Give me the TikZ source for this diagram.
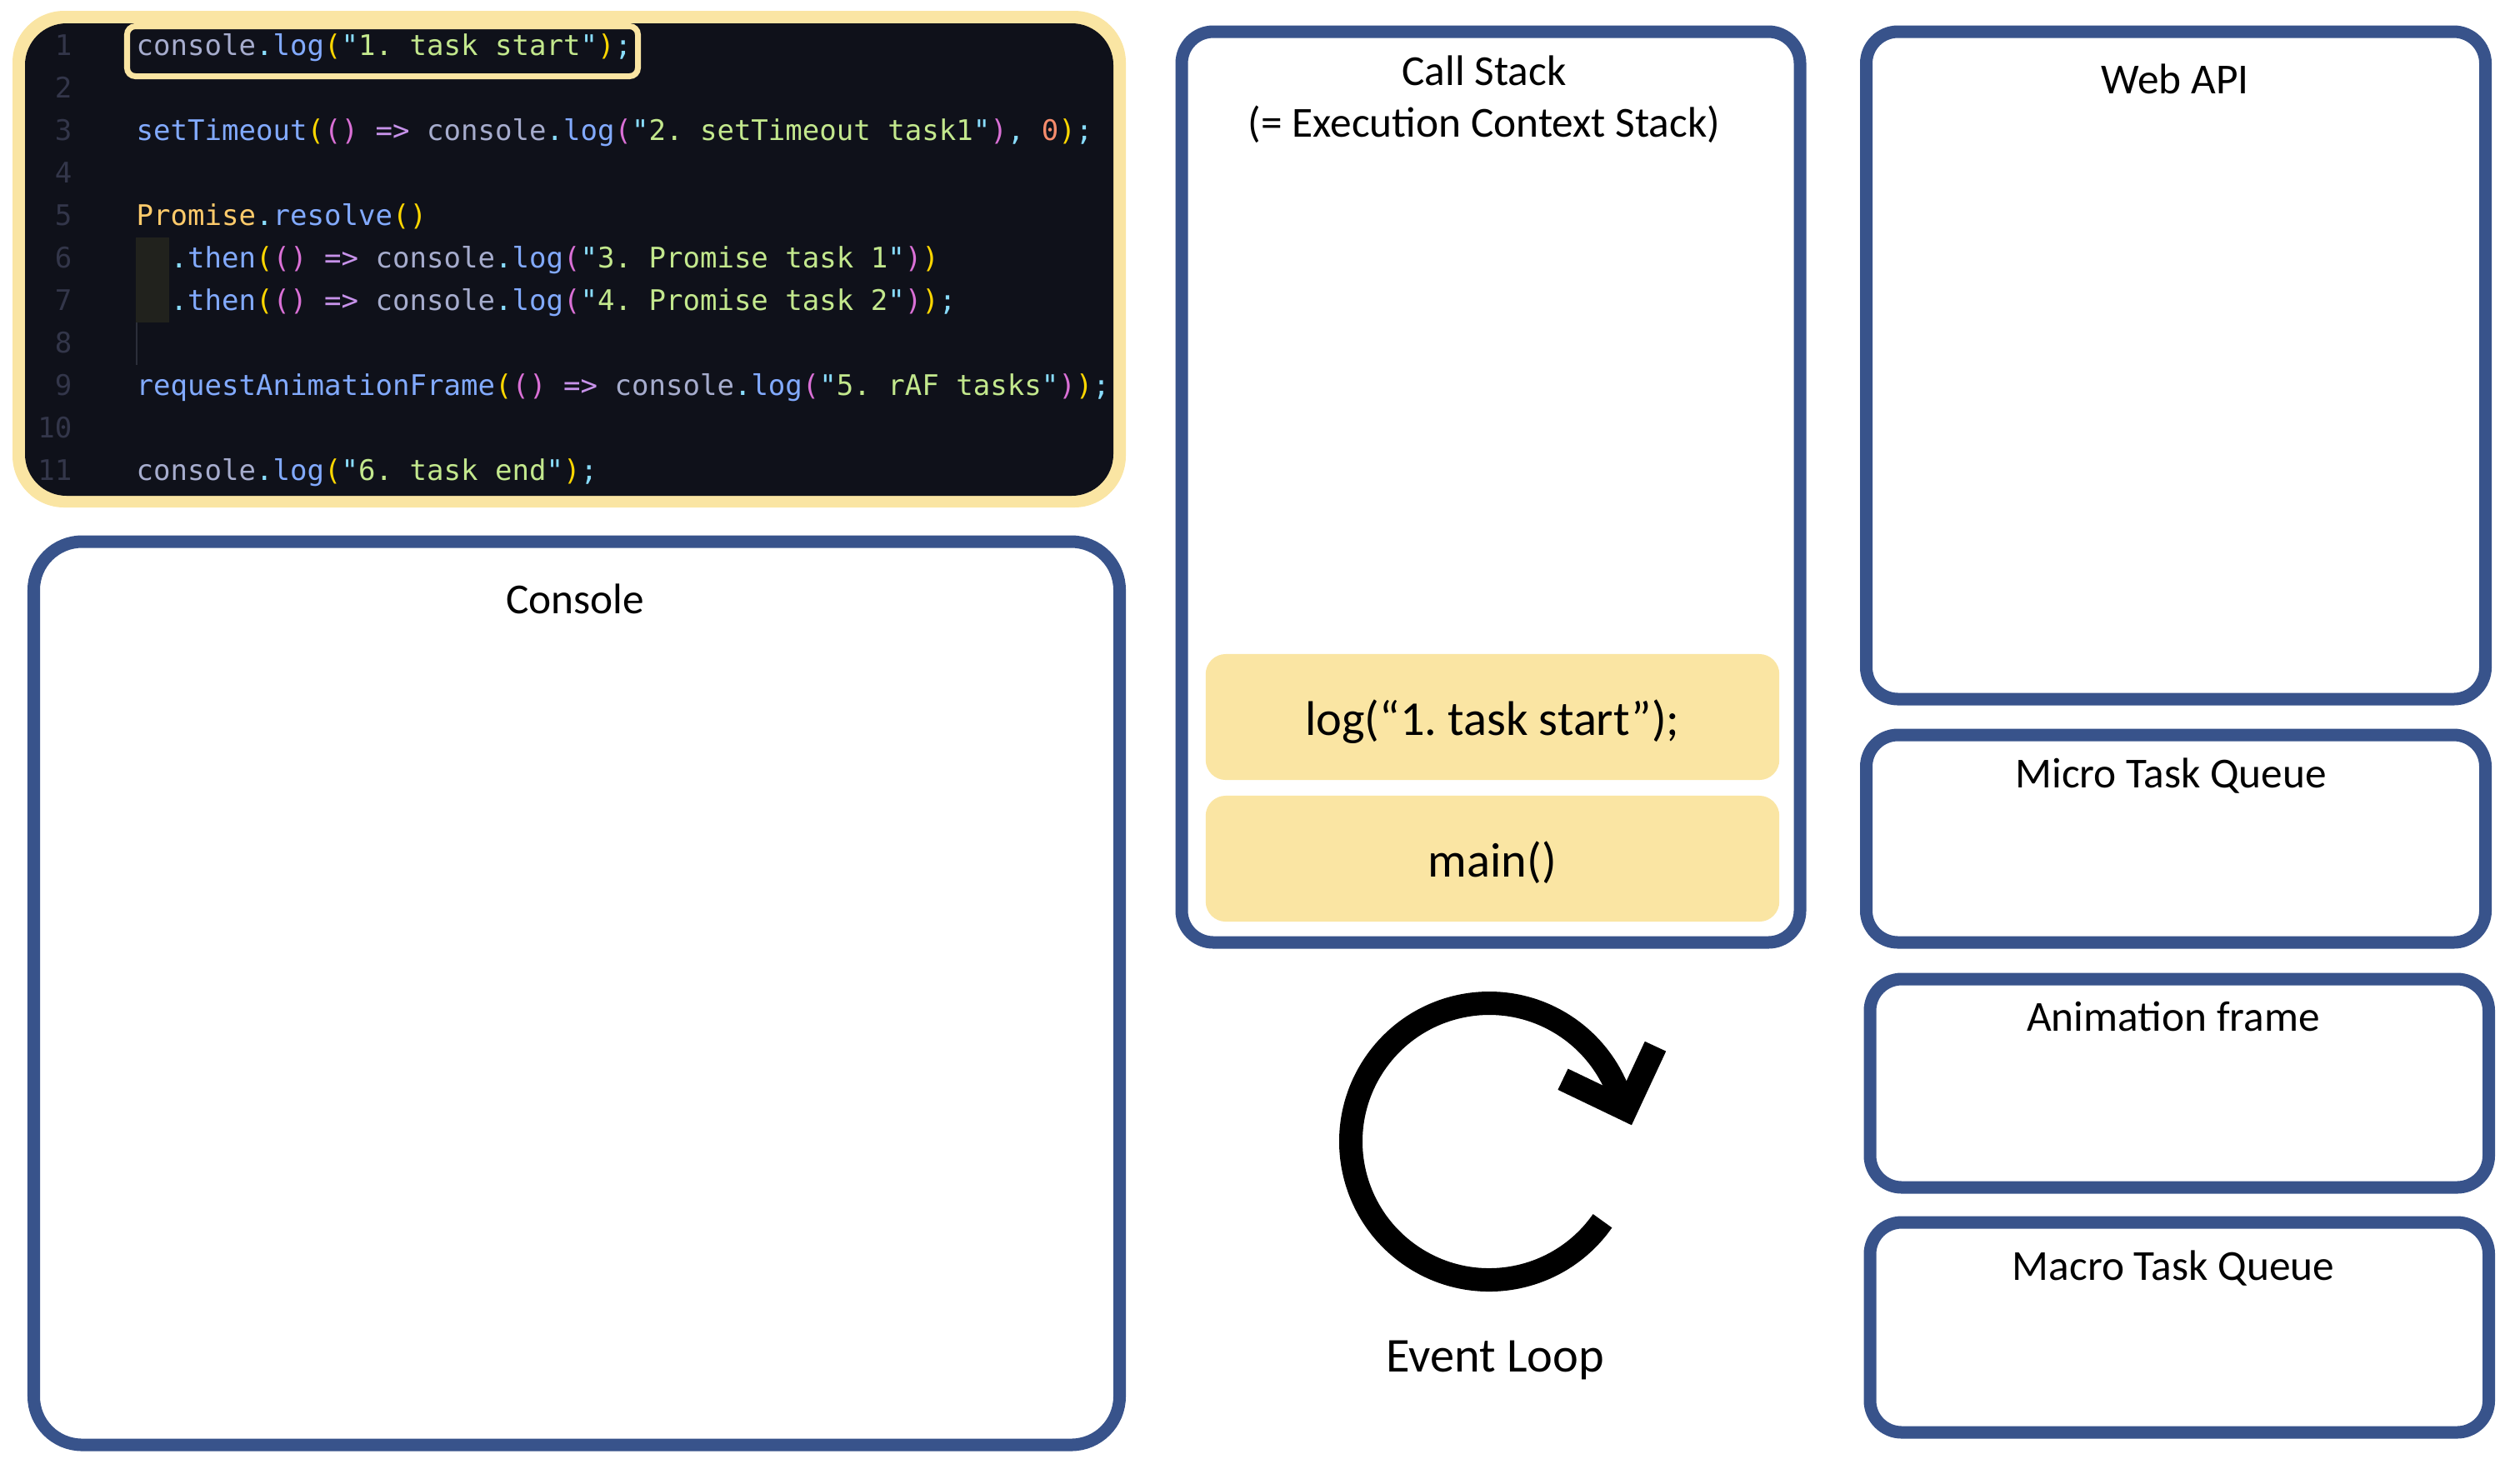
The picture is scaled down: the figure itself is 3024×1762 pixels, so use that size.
\documentclass[tikz,border=0pt]{standalone}
\usepackage{fontspec}
\setmainfont{Carlito}
\newfontfamily\codefont{DejaVu Sans Mono}
\usepackage{tikz}
\definecolor{panelblue}{HTML}{38538B}
\definecolor{hlyellow}{HTML}{FAE5A3}
\definecolor{codebg}{HTML}{0F111A}
\definecolor{indentbg}{HTML}{21221D}
\definecolor{guideline}{HTML}{2B2E3A}
\definecolor{linenum}{HTML}{33364A}
\definecolor{codefg}{HTML}{A6ACCD}
\definecolor{codecyan}{HTML}{89DDFF}
\definecolor{codeblue}{HTML}{82AAFF}
\definecolor{codegreen}{HTML}{C3E88D}
\definecolor{codegold}{HTML}{FFD700}
\definecolor{codeorchid}{HTML}{DA70D6}
\definecolor{codepurple}{HTML}{C792EA}
\definecolor{codeclass}{HTML}{FFCB6B}
\definecolor{codeorange}{HTML}{F78C6C}
\newcommand{\jsv}[1]{\textcolor{codefg}{#1}}
\newcommand{\jsd}[1]{\textcolor{codecyan}{#1}}
\newcommand{\jsf}[1]{\textcolor{codeblue}{#1}}
\newcommand{\jsp}[1]{\textcolor{codegold}{#1}}
\newcommand{\jsq}[1]{\textcolor{codeorchid}{#1}}
\newcommand{\jsk}[1]{\textcolor{codepurple}{#1}}
\newcommand{\jsc}[1]{\textcolor{codeclass}{#1}}
\newcommand{\jsn}[1]{\textcolor{codeorange}{#1}}
\newcommand{\jsstr}[1]{\jsd{"}\textcolor{codegreen}{#1}\jsd{"}}
\begin{document}
\frenchspacing
\begin{tikzpicture}[x=0.01cm,y=-0.01cm,
  panel/.style={draw=panelblue,line width=0.15cm,rounded corners=0.38cm},
  paneltitle/.style={font=\fontsize{14.6}{17}\selectfont,inner sep=0pt,anchor=base},
  bigtext/.style={font=\fontsize{16.6}{20}\selectfont,inner sep=0pt,anchor=base},
  codeline/.style={font=\codefont\fontsize{9.68}{11}\selectfont,inner sep=0pt,anchor=base west},
  lnum/.style={codeline,anchor=base east,text=linenum},
  stackframe/.style={fill=hlyellow,rounded corners=0.24cm,minimum width=6.88cm,minimum height=1.51cm,
    text height=0.43cm,text depth=0pt,font=\fontsize{16.6}{20}\selectfont},
  loopline/.style={line width=0.28cm}]
  \useasboundingbox (0,0) rectangle (3024,1762);
  \fill[hlyellow,rounded corners=0.62cm] (15,13) rectangle (1351,609);
  \fill[codebg,rounded corners=0.5cm] (30,28) rectangle (1336,595);
  \fill[indentbg] (163,285) rectangle (203,387);
  \draw[guideline,line width=0.02cm] (164,387) -- (164,438);
  \draw[hlyellow,line width=0.07cm,rounded corners=0.1cm] (152.5,31.5) rectangle (765.5,91.5);
  \foreach \n in {1,...,11}
    \node[lnum] (ln\n) at (87,{66.7+(\n-1)*51}) {\n};
  \node[codeline] (code1) at (163,66.7) {\jsv{console}\jsd{.}\jsf{log}\jsp{(}\jsstr{1. task start}\jsp{)}\jsd{;}};
  \node[codeline] (code3) at (163,168.7) {\jsf{setTimeout}\jsp{(}\jsq{()} \jsk{=>} \jsv{console}\jsd{.}\jsf{log}\jsq{(}\jsstr{2. setTimeout task1}\jsq{)}\jsd{,} \jsn{0}\jsp{)}\jsd{;}};
  \node[codeline] (code5) at (163,270.7) {\jsc{Promise}\jsd{.}\jsf{resolve}\jsp{()}};
  \node[codeline] (code6) at (204,321.7) {\jsd{.}\jsf{then}\jsp{(}\jsq{()} \jsk{=>} \jsv{console}\jsd{.}\jsf{log}\jsq{(}\jsstr{3. Promise task 1}\jsq{)}\jsp{)}};
  \node[codeline] (code7) at (204,372.7) {\jsd{.}\jsf{then}\jsp{(}\jsq{()} \jsk{=>} \jsv{console}\jsd{.}\jsf{log}\jsq{(}\jsstr{4. Promise task 2}\jsq{)}\jsp{)}\jsd{;}};
  \node[codeline] (code9) at (163,474.7) {\jsf{requestAnimationFrame}\jsp{(}\jsq{()} \jsk{=>} \jsv{console}\jsd{.}\jsf{log}\jsq{(}\jsstr{5. rAF tasks}\jsq{)}\jsp{)}\jsd{;}};
  \node[codeline] (code11) at (163,576.7) {\jsv{console}\jsd{.}\jsf{log}\jsp{(}\jsstr{6. task end}\jsp{)}\jsd{;}};
  \draw[panel,rounded corners=0.58cm] (40.5,650) rectangle (1343.5,1734);
  \node[paneltitle] (console) at (690,736) {Console};
  \draw[panel] (1418,38) rectangle (2160,1131);
  \node[paneltitle] (callstack) at (1781,102.6) {Call Stack};
  \node[paneltitle] (ecstack) at (1781,164.6) {(= Execution Context Stack)};
  \node[stackframe] (logframe) at (1791,860.5) {log(“1. task start”);};
  \node[stackframe] (mainframe) at (1791,1030.5) {main()};
  \draw[panel] (2239.5,38) rectangle (2982.5,839);
  \node[paneltitle] (webapi) at (2610,112) {Web API};
  \draw[panel] (2239.5,882) rectangle (2982.5,1131);
  \node[paneltitle] (microq) at (2605,945.6) {Micro Task Queue};
  \draw[panel] (2244,1175) rectangle (2986.5,1425);
  \node[paneltitle] (animframe) at (2608,1237.4) {Animation frame};
  \draw[panel] (2244,1467) rectangle (2986.5,1719);
  \node[paneltitle] (macroq) at (2608,1536.3) {Macro Task Queue};
  \draw[loopline] (1787,1370) ++(35:166) arc[start angle=35,end angle=346,radius=166];
  \draw[loopline,line join=miter] (1875.5,1295.2) -- (1951.2,1331.5) -- (1986.5,1255.7);
  \node[bigtext] (eventloop) at (1794,1646) {Event Loop};
\end{tikzpicture}
\end{document}
